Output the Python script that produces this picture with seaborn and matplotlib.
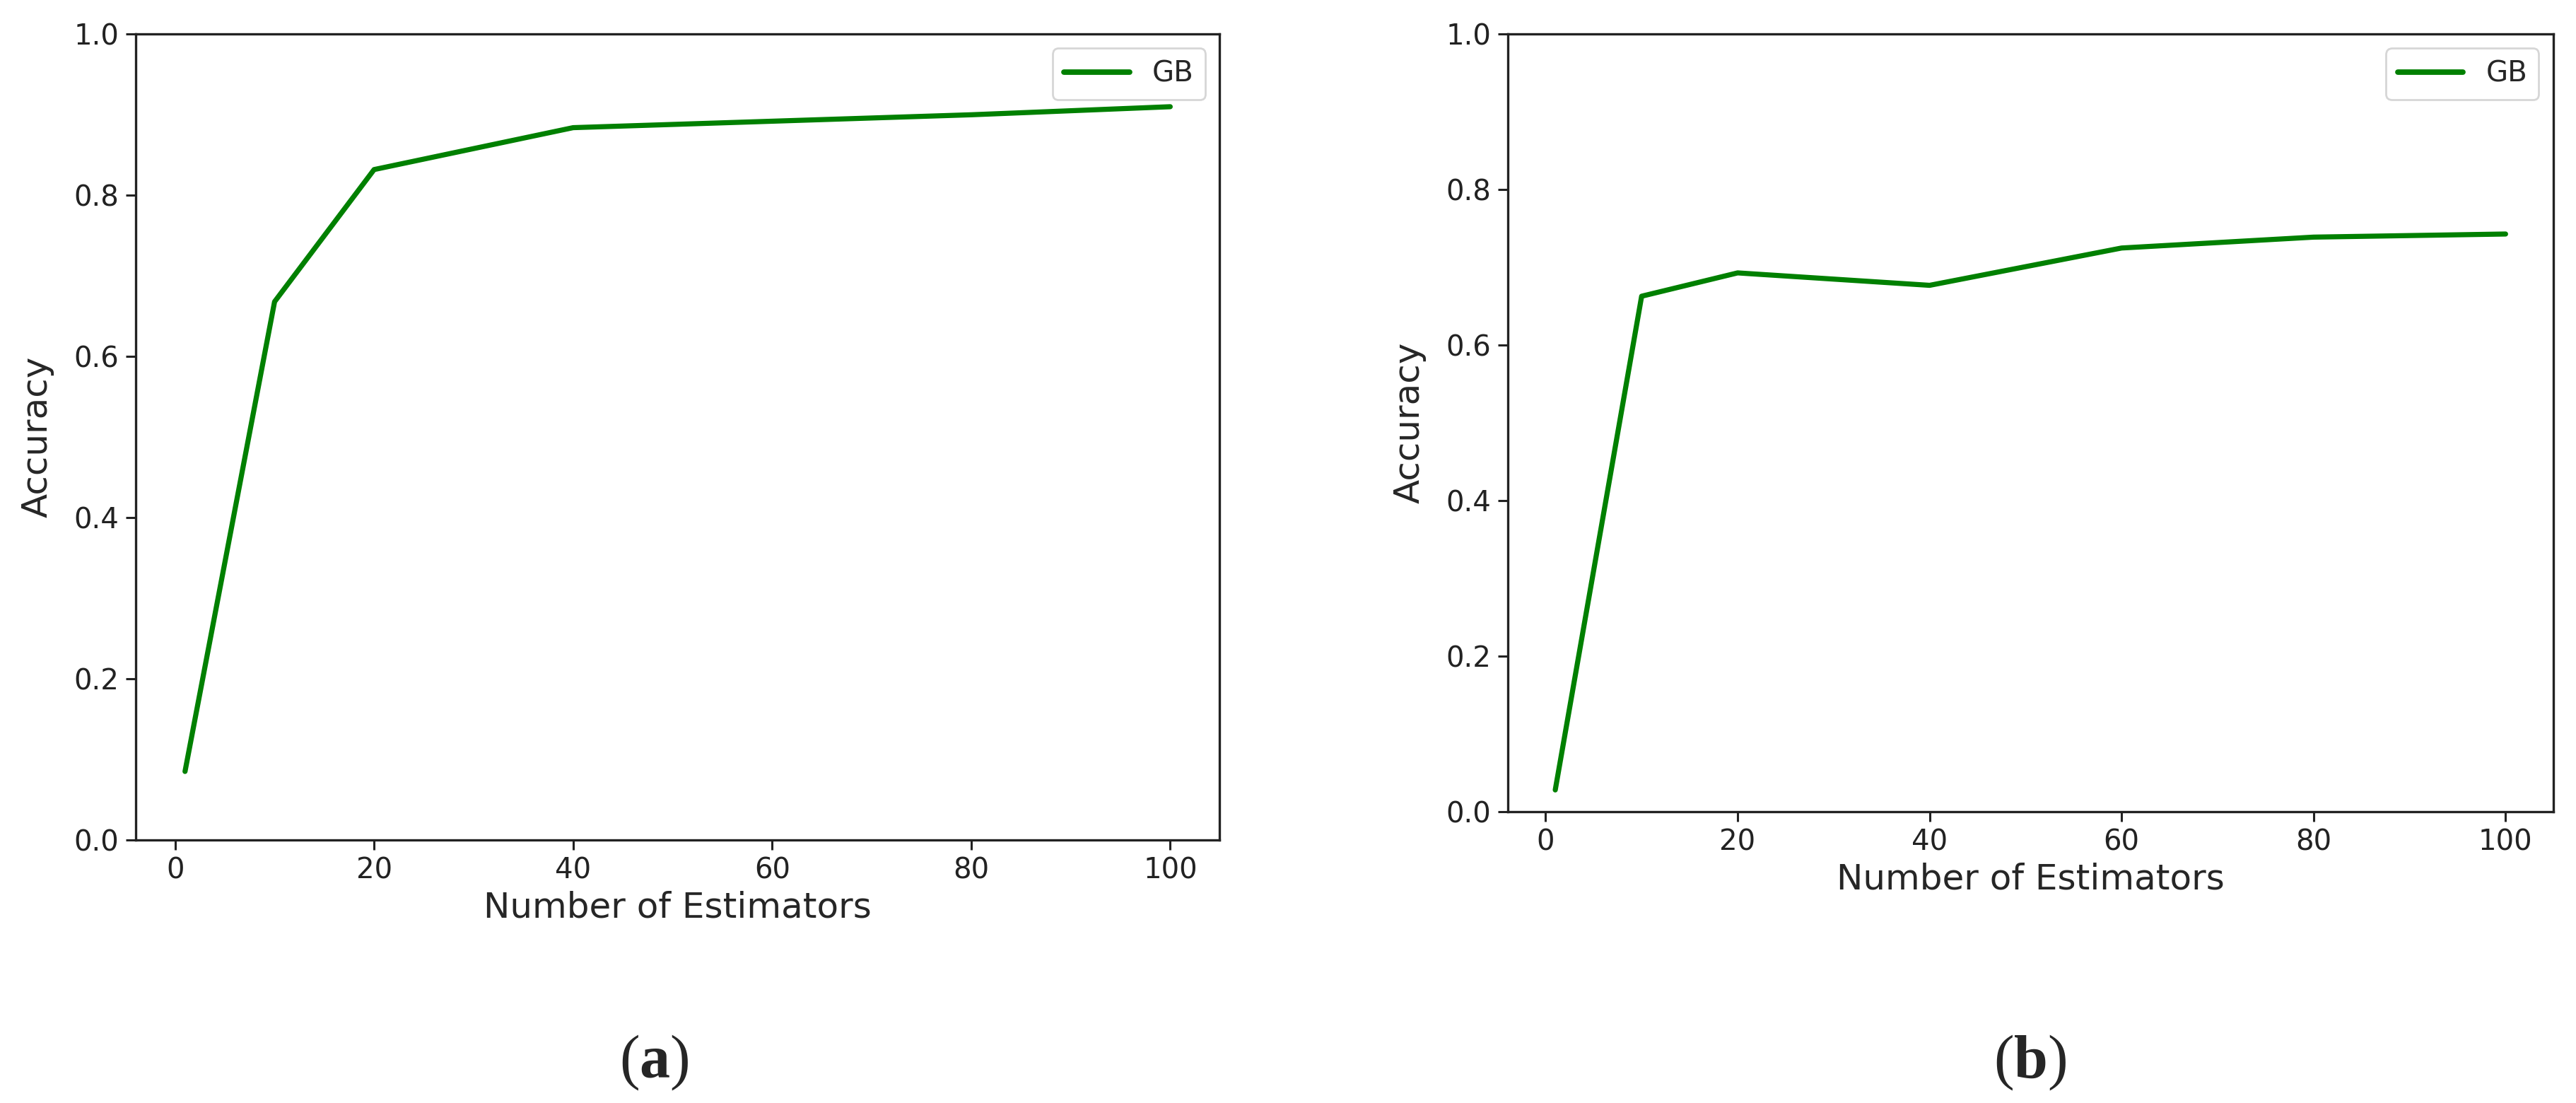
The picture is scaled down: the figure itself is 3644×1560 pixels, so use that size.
import numpy as np
import pandas as pd
import matplotlib
matplotlib.use('Agg')
import matplotlib.pyplot as plt
import seaborn as sns

# Data
n_estimators = [1, 10, 20, 40, 60, 80, 100]
acc_a = [0.085, 0.668, 0.832, 0.884, 0.892, 0.900, 0.910]
acc_b = [0.028, 0.663, 0.693, 0.677, 0.725, 0.739, 0.743]
series_label = 'GB'
x_ticks = [0, 20, 40, 60, 80, 100]
y_ticks = [0.0, 0.2, 0.4, 0.6, 0.8, 1.0]
panel_labels = ['a', 'b']

sns.set_style('ticks')
plt.rcParams['font.family'] = ['DejaVu Sans']
plt.rcParams['mathtext.fontset'] = 'custom'
plt.rcParams['mathtext.rm'] = 'Liberation Serif'
plt.rcParams['mathtext.bf'] = 'Liberation Serif:bold'

fig = plt.figure(figsize=(18.22, 7.8), dpi=200)
ax1 = fig.add_axes([0.0527, 0.2385, 0.4207, 0.7305])
ax2 = fig.add_axes([0.5853, 0.2641, 0.4058, 0.7049])

for ax, acc in [(ax1, acc_a), (ax2, acc_b)]:
    df = pd.DataFrame({'estimators': n_estimators, 'accuracy': acc})
    sns.lineplot(data=df, x='estimators', y='accuracy', ax=ax,
                 color='#008000', linewidth=2.6, label=series_label)
    ax.set_ylim(0, 1)
    ax.set_xticks(x_ticks)
    ax.set_yticks(y_ticks)
    ax.set_yticklabels([f'{t:.1f}' for t in y_ticks])
    ax.tick_params(labelsize=14.5, width=1.1, length=5, colors='#222222')
    ax.set_xlabel('Number of Estimators', fontsize=18, labelpad=3)
    ax.set_ylabel('Accuracy', fontsize=18, labelpad=10)
    for sp in ax.spines.values():
        sp.set_linewidth(1.2)
        sp.set_color('#222222')
    leg = ax.legend(loc='upper right', fontsize=14.5, frameon=True,
                    fancybox=True, edgecolor='#cccccc', handlelength=2.3)
    for line in leg.get_lines():
        line.set_linewidth(2.8)

fig.text(0.254, 0.036, r'($\mathbf{' + panel_labels[0] + '}$)', fontsize=31,
         ha='center', va='center', family='Liberation Serif')
fig.text(0.788, 0.036, r'($\mathbf{' + panel_labels[1] + '}$)', fontsize=31,
         ha='center', va='center', family='Liberation Serif')

fig.savefig('out.png', dpi=200, facecolor='white')
